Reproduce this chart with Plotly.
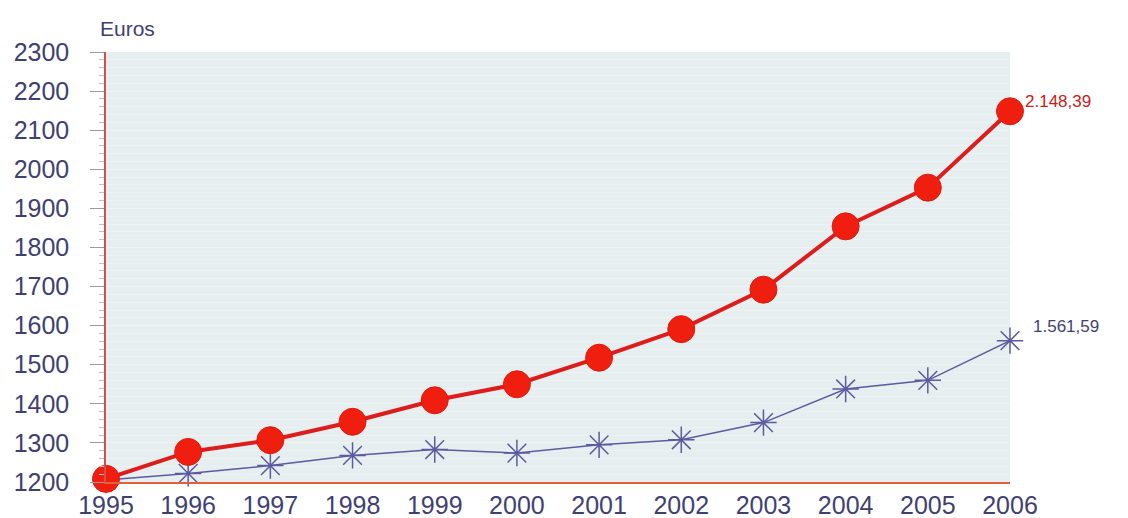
import plotly.graph_objects as go

years = [1995, 1996, 1997, 1998, 1999, 2000, 2001, 2002, 2003, 2004, 2005, 2006]
red_values = [1208, 1277, 1307, 1354, 1409, 1450, 1518, 1591, 1692, 1854, 1953, 2148.39]
blue_values = [1205, 1222, 1242, 1268, 1283, 1274, 1295, 1308, 1352, 1438, 1460, 1561.59]
red_label = "2.148,39"
blue_label = "1.561,59"
y_ticks = list(range(1200, 2301, 100))

navy = "#3f3f72"
fig = go.Figure()

fig.add_trace(go.Scatter(
    x=years, y=blue_values, mode="lines+markers",
    line=dict(color="#5b5ba0", width=1.5),
    marker=dict(symbol="asterisk-open", size=22, color="#5b5ba0", line=dict(width=1.5, color="#5b5ba0")),
    cliponaxis=False, showlegend=False,
))
fig.add_trace(go.Scatter(
    x=years, y=red_values, mode="lines+markers",
    line=dict(color="#dd1c1c", width=4),
    marker=dict(symbol="circle", size=27, color="#f01e0e", line=dict(width=1, color="#e01a10")),
    cliponaxis=False, showlegend=False,
))

fig.add_annotation(x=years[-1], y=red_values[-1], text=red_label, showarrow=False,
                   xanchor="left", yanchor="middle", xshift=13, yshift=10,
                   font=dict(family="Liberation Sans, Arial", size=17, color="#c8201a"))
fig.add_annotation(x=years[-1], y=blue_values[-1], text=blue_label, showarrow=False,
                   xanchor="left", yanchor="middle", xshift=21, yshift=14,
                   font=dict(family="Liberation Sans, Arial", size=17, color=navy))
fig.add_annotation(x=0, y=1, xref="paper", yref="paper", text="Euros", showarrow=False,
                   xanchor="left", yanchor="bottom", xshift=-8, yshift=10,
                   font=dict(family="Liberation Sans, Arial", size=21, color=navy))

fig.update_layout(
    width=1120, height=510,
    margin=dict(l=98, r=118, t=44, b=36),
    paper_bgcolor="white",
    plot_bgcolor="#e6eef0",
    font=dict(family="Liberation Sans, Arial", size=25, color=navy),
)
fig.update_xaxes(
    range=[1995, 2006], tickmode="array", tickvals=years, ticktext=[str(y) for y in years],
    showgrid=False, zeroline=False, showline=True, linecolor="#e0603a", linewidth=2,
    ticks="", tickfont=dict(size=25, color=navy), ticklabelstandoff=0, automargin=False,
)
fig.update_yaxes(
    range=[1200, 2300], tickmode="array", tickvals=y_ticks,
    showgrid=True, gridcolor="#eef3f4", gridwidth=1,
    zeroline=False, showline=True, linecolor="#d05050", linewidth=1.5,
    ticks="outside", ticklen=14, tickcolor="#9a9a9a", tickwidth=1,
    minor=dict(ticks="outside", ticklen=5, tickcolor="#c0c0c0", dtick=20, showgrid=True, gridcolor="#edf2f3"),
    tickfont=dict(size=25, color=navy), ticklabelstandoff=16, automargin=False,
)

fig.write_html("out.html")
